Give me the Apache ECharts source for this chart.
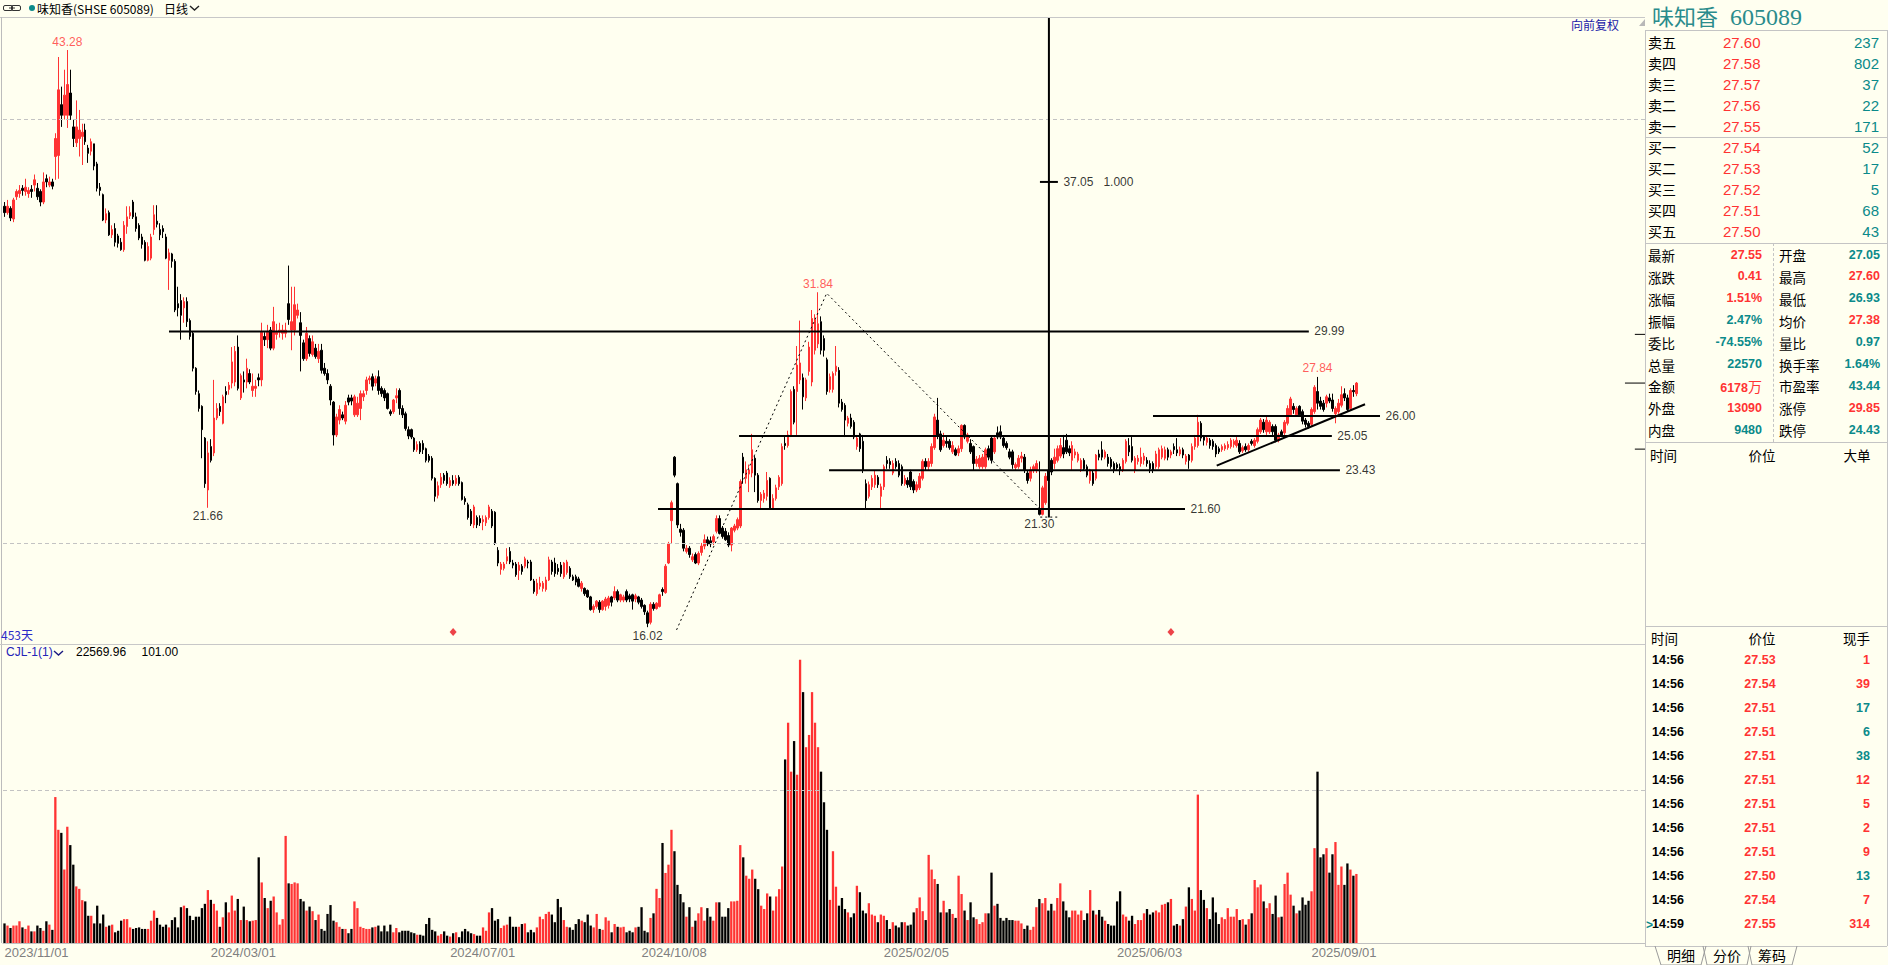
<!DOCTYPE html>
<html>
<head>
<meta charset="utf-8">
<title>味知香(SHSE 605089) 日线</title>
<script src="https://cdn.jsdelivr.net/npm/echarts@6.0.0/dist/echarts.min.js"></script>
<style>
  html, body { margin:0; padding:0; width:1888px; height:965px; overflow:hidden; background:#FFFFF0; }
  #chart { position:absolute; left:0; top:0; width:1888px; height:965px; }
  #overlay { position:absolute; left:0; top:0; width:1888px; height:965px; pointer-events:none; }
  .t { position:absolute; white-space:pre; font-family:'Noto Sans CJK SC','Liberation Sans',sans-serif; }
  .ln { position:absolute; background:#c4c4c4; }
</style>
</head>
<body>
<div id="chart"></div>
<div id="overlay"></div>
<script>
// ---------------- DATA ----------------
// daily candles: [open, close, low, high]
const ohlc = [
/*0*/  [35.9,35.6,35.4,36.1],[35.6,35.9,35.5,36.2],[35.8,35.35,35.2,35.9],[35.3,36.2,35.15,36.3],[36.35,36.6,36.2,36.7],[36.5,36.65,36.3,36.9],[36.75,36.65,36.4,36.9],[36.6,36.8,36.4,37.2],[36.5,36.65,36.3,36.8],[36.7,36.6,36.3,36.9],
/*10*/ [36.9,37.15,36.6,37.4],[36.75,36.35,36.2,37.0],[36.6,36.1,35.9,36.7],[36.1,37.05,36.0,37.5],[37.2,37.05,36.8,37.4],[36.9,37.05,36.8,37.3],[37.05,36.85,36.7,37.2],[38.25,39.1,37.15,39.35],[38.3,41.4,37.2,42.95],[40.7,40.2,39.65,41.55],
/*20*/ [40.2,41.15,40.0,42.35],[40.2,41.65,39.6,43.28],[41.25,40.2,39.98,42.35],[39.65,39.1,38.7,40.0],[38.9,39.65,38.7,40.9],[39.1,39.5,38.25,40.45],[39.2,39.4,37.85,39.8],[39.5,38.95,38.8,39.8],[38.65,38.4,37.95,38.8],[38.5,38.95,38.3,39.1],
/*30*/ [38.85,37.8,37.6,38.85],[37.9,36.75,36.6,38.0],[36.8,36.65,36.4,37.0],[36.45,35.25,35.2,36.5],[35.25,35.55,35.1,35.8],[35.6,34.55,34.5,35.7],[34.55,34.8,34.4,35.0],[34.85,34.2,34.0,35.1],[34.5,34.15,33.95,34.6],[34.2,33.85,33.8,34.4],
/*40*/ [33.85,35.0,33.75,35.2],[34.95,35.4,34.6,35.9],[35.45,35.6,35.3,35.9],[36.1,35.4,35.3,36.2],[35.4,34.85,34.7,35.6],[35.0,34.4,34.3,35.1],[34.45,34.1,33.9,34.6],[34.2,33.35,33.3,34.3],[33.35,34.0,33.3,34.2],[33.45,34.45,33.35,34.6],
/*50*/ [34.8,35.5,34.55,35.95],[35.2,35.05,34.9,35.95],[34.8,34.55,34.3,35.1],[34.85,34.7,34.4,35.0],[34.45,33.45,33.4,34.6],[33.35,33.7,31.95,33.9],[33.65,33.3,33.0,33.7],[33.3,31.0,30.9,33.4],[31.3,31.1,30.7,32.1],[31.45,30.75,29.6,31.75],
/*60*/ [31.1,31.4,30.4,31.6],[31.4,30.45,30.2,31.6],[30.5,29.75,29.6,30.6],[29.9,28.25,28.1,30.0],[28.25,27.15,27.0,28.3],[27.05,26.35,26.2,27.2],[26.45,25.35,24.0,26.5],[24.95,22.8,22.6,25.0],[22.5,24.25,21.66,24.8],[24.55,23.9,23.8,24.9],
/*70*/ [24.25,25.9,24.1,27.7],[25.9,26.35,25.8,26.6],[26.45,26.2,26.0,26.6],[25.65,26.9,25.6,27.0],[27.15,27.0,26.6,27.4],[27.25,27.45,27.0,27.6],[27.55,28.55,27.3,29.25],[27.6,29.05,27.4,29.3],[29.25,27.3,27.2,29.8],[26.85,27.9,26.75,28.0],
/*80*/ [27.7,27.6,27.1,28.1],[27.6,28.25,27.3,28.7],[28.0,27.6,27.5,28.2],[27.2,27.4,26.9,28.0],[27.3,27.4,26.9,27.7],[27.8,27.7,27.4,28.0],[27.7,29.95,27.4,30.4],[29.75,29.6,29.3,29.95],[29.6,29.95,29.2,30.3],[30.05,29.2,29.1,30.2],
/*90*/ [29.2,30.45,29.1,31.15],[29.85,29.95,29.6,30.35],[29.95,30.05,29.7,30.4],[29.9,30.05,29.6,30.3],[29.9,30.05,29.7,30.4],[31.3,30.55,30.3,33.1],[30.05,30.45,29.1,32.1],[30.05,31.25,29.8,32.1],[30.75,31.0,30.6,31.3],[30.4,29.8,28.1,30.9],
/*100*/[29.45,28.7,28.6,29.6],[28.7,29.9,28.6,30.2],[29.65,28.95,28.8,29.8],[28.9,29.5,28.8,29.8],[29.2,28.8,28.7,29.4],[28.7,29.05,28.5,29.4],[29.1,28.15,28.0,29.4],[28.25,28.0,27.9,28.5],[28.0,27.7,27.5,28.2],[27.4,26.75,26.5,27.5],
/*110*/[26.65,25.1,24.6,26.7],[25.1,25.95,25.0,26.1],[25.8,26.3,25.6,26.5],[26.05,25.9,25.8,26.2],[25.75,26.5,25.6,26.7],[26.85,26.65,26.5,27.0],[26.85,26.7,26.5,27.0],[26.05,26.9,25.95,27.0],[26.05,26.6,25.95,26.9],[26.35,27.05,25.8,27.2],
/*120*/[26.9,27.05,26.7,27.2],[27.2,27.7,27.0,27.85],[27.7,27.78,27.5,27.9],[27.85,27.4,27.2,28.0],[27.55,27.75,27.4,27.9],[27.85,27.2,27.0,28.15],[27.3,27.05,26.9,27.4],[27.2,26.85,26.7,27.3],[27.05,26.35,26.3,27.1],[26.2,26.1,26.0,26.3],
/*130*/[26.2,26.75,26.1,26.8],[26.85,26.95,26.6,27.3],[27.2,26.35,26.05,27.3],[26.35,26.05,25.9,26.5],[26.1,25.4,25.3,26.2],[25.35,25.05,24.9,25.5],[25.35,25.0,24.9,25.4],[24.95,24.4,24.3,25.0],[24.4,24.65,24.3,24.8],[24.7,24.3,24.2,24.8],
/*140*/[24.7,24.4,24.2,24.85],[24.45,23.9,23.8,24.5],[24.1,23.9,23.8,24.2],[24.0,23.05,22.95,24.1],[23.05,22.2,21.95,23.1],[22.25,22.7,22.1,22.9],[22.75,23.1,22.6,23.3],[23.2,22.95,22.8,23.3],[23.3,22.8,22.7,23.4],[22.7,22.95,22.6,23.1],
/*150*/[22.95,22.8,22.7,23.2],[22.8,23.05,22.7,23.2],[23.1,22.8,22.7,23.2],[22.85,22.05,22.0,22.9],[22.1,21.95,21.8,22.2],[21.8,21.2,21.1,21.9],[21.5,20.9,20.8,21.6],[20.85,21.7,20.7,21.8],[21.2,20.85,20.7,21.3],[21.15,20.95,20.8,21.3],
/*160*/[21.0,21.1,20.6,21.3],[20.95,21.2,20.8,21.3],[21.2,21.7,21.1,21.8],[21.5,20.8,20.7,21.6],[21.45,20.0,19.9,21.5],[19.65,19.05,18.9,19.8],[18.75,19.0,18.5,19.1],[18.8,19.0,18.7,19.1],[19.15,19.35,19.0,19.75],[19.6,19.1,19.0,19.8],
/*170*/[19.05,18.95,18.8,19.2],[19.0,18.5,18.4,19.1],[18.7,18.95,18.25,19.1],[18.9,18.65,18.5,19.0],[18.9,19.25,18.8,19.35],[19.1,19.05,18.8,19.2],[19.1,18.25,18.2,19.2],[18.2,17.7,17.6,18.3],[17.6,18.1,17.5,18.3],[17.95,18.1,17.8,18.4],
/*180*/[17.85,18.1,17.7,18.2],[17.8,18.25,17.7,18.4],[18.25,19.2,18.2,19.35],[19.1,18.65,18.5,19.2],[19.05,18.55,18.4,19.3],[18.8,18.65,18.5,19.0],[18.95,18.55,18.4,19.1],[18.4,19.05,18.3,19.1],[18.6,19.1,18.5,19.2],[18.8,18.4,18.3,18.9],
/*190*/[18.4,18.25,18.2,18.5],[18.4,18.15,18.0,18.5],[18.3,17.95,17.9,18.4],[17.85,18.1,17.7,18.2],[17.85,17.6,17.5,17.9],[17.75,17.45,17.4,17.8],[17.45,16.85,16.8,17.5],[16.85,17.0,16.7,17.1],[17.0,17.25,16.9,17.3],[17.2,16.85,16.7,17.3],
/*200*/[16.85,17.25,16.8,17.3],[17.0,17.35,16.8,17.45],[17.05,17.4,16.9,17.5],[17.45,17.2,17.0,17.5],[17.4,17.7,17.3,17.95],[17.7,17.3,17.2,17.8],[17.3,17.55,17.2,17.6],[17.3,17.45,17.2,17.55],[17.7,17.3,17.2,17.8],[17.5,17.35,17.2,17.6],
/*210*/[17.55,17.25,16.85,17.6],[17.35,17.5,17.2,17.6],[17.45,17.2,17.1,17.5],[17.3,17.0,16.9,17.4],[17.05,16.75,16.6,17.1],[16.7,16.2,16.02,16.8],[16.25,17.1,16.15,17.2],[17.1,16.9,16.8,17.2],[16.9,17.15,16.85,17.2],[17.0,17.55,16.95,17.6],
/*220*/[17.8,17.7,17.5,17.9],[17.65,18.9,17.6,19.0],[19.05,19.95,19.0,20.05],[21.05,21.9,19.98,22.0],[24.05,23.2,23.1,24.1],[22.8,20.85,20.7,22.85],[20.65,20.5,20.3,20.9],[20.6,19.75,19.6,20.7],[19.6,19.75,19.5,19.9],[19.75,19.45,19.3,19.85],
/*230*/[19.2,19.35,19.1,19.5],[19.45,19.05,19.0,19.55],[19.05,19.5,18.95,19.6],[19.55,19.85,19.4,20.0],[19.85,20.15,19.7,20.4],[20.15,19.95,19.85,20.3],[20.1,19.95,19.8,20.3],[20.05,20.3,19.9,20.4],[20.55,21.15,20.45,21.3],[21.15,20.45,20.4,21.3],
/*240*/[20.7,20.3,20.2,20.8],[20.55,20.15,20.1,20.7],[20.35,19.9,19.8,20.5],[19.9,20.7,19.6,20.75],[20.6,20.8,20.5,20.9],[20.7,21.1,20.6,21.2],[20.8,22.9,20.7,23.0],[24.05,23.3,22.8,24.25],[23.05,23.45,22.8,23.85],[23.25,23.45,22.4,23.7],
/*250*/[23.3,24.4,23.1,25.15],[24.0,23.2,22.4,24.1],[23.2,22.0,21.9,23.3],[22.0,22.3,21.6,22.4],[22.1,22.35,21.9,22.5],[22.2,22.95,22.0,23.35],[23.05,21.65,21.6,23.1],[21.65,22.1,21.6,22.3],[22.1,22.6,22.0,22.75],[22.65,23.1,22.5,23.2],
/*260*/[22.8,24.55,22.7,24.7],[24.7,24.6,24.4,25.0],[24.6,25.1,24.5,25.3],[25.1,27.15,25.0,27.25],[27.25,25.7,25.6,27.4],[27.15,28.4,25.1,29.3],[27.7,28.5,27.5,30.5],[27.8,26.9,26.3,28.0],[26.85,27.7,26.7,27.8],[28.1,29.25,27.9,29.5],
/*270*/[27.6,30.6,27.4,31.0],[29.1,30.55,28.9,30.8],[29.4,30.35,29.2,31.84],[30.45,29.1,28.9,30.7],[29.65,29.1,28.8,29.8],[28.65,27.15,27.0,28.75],[27.25,27.85,27.1,28.0],[27.25,28.0,27.1,28.1],[28.1,28.35,27.9,29.3],[28.15,26.6,26.4,28.3],
/*280*/[26.65,26.3,26.2,26.8],[26.5,25.8,25.0,26.6],[25.65,25.9,25.5,26.0],[25.9,25.5,25.4,26.1],[25.7,25.0,24.9,25.8],[24.55,24.95,24.4,25.1],[25.15,24.45,24.3,25.2],[24.8,23.45,23.3,25.1],[22.8,22.0,21.6,23.0],[22.2,22.75,22.1,22.9],
/*290*/[22.65,23.05,22.5,23.2],[22.75,23.2,22.6,23.4],[23.1,22.75,22.6,23.2],[22.2,22.65,21.65,22.8],[22.65,23.6,22.5,23.7],[23.9,23.75,23.5,24.1],[23.85,23.7,23.5,24.0],[23.3,23.75,23.2,23.9],[23.85,23.6,23.5,24.0],[23.75,23.2,23.1,23.9],
/*300*/[23.6,22.8,22.7,23.7],[22.8,23.05,22.7,23.2],[22.95,22.75,22.6,23.1],[23.35,22.65,22.5,23.45],[22.9,22.5,22.35,23.0],[22.5,22.75,22.4,22.9],[22.6,23.15,22.5,23.3],[23.05,23.85,22.95,23.95],[23.85,23.6,23.4,24.0],[23.6,23.85,23.4,24.0],
/*310*/[23.75,24.55,23.6,24.7],[24.5,25.95,24.4,26.1],[25.8,25.1,24.9,26.85],[25.15,24.4,24.3,25.3],[24.6,24.85,24.5,25.2],[24.8,24.7,24.5,25.0],[24.8,24.5,24.4,24.9],[24.3,24.6,24.2,24.8],[24.4,24.15,24.1,24.5],[24.25,24.45,24.1,24.6],
/*320*/[24.45,25.55,24.3,25.6],[25.55,25.0,24.9,25.6],[24.8,25.1,24.7,25.2],[24.7,24.3,24.2,24.9],[24.55,23.75,23.45,24.6],[23.75,23.95,23.6,24.1],[23.6,24.0,23.5,24.15],[23.6,24.05,23.5,24.2],[23.6,24.4,23.5,24.5],[24.45,24.05,23.9,24.6],
/*330*/[24.95,23.9,23.75,25.0],[24.3,24.95,24.2,25.1],[25.2,25.0,24.9,25.5],[25.25,25.0,24.9,25.55],[24.95,24.6,24.5,25.05],[24.7,24.5,24.4,24.8],[24.3,24.05,23.95,24.45],[24.3,23.7,23.5,24.4],[23.55,23.7,23.4,23.8],[23.6,24.0,23.5,24.15],
/*340*/[24.0,24.1,23.8,24.3],[24.05,23.45,23.3,24.2],[23.3,22.95,22.8,23.4],[23.05,23.45,22.9,23.6],[23.45,23.6,23.3,23.7],[23.45,23.75,23.3,23.9],[21.6,21.35,21.3,23.85],[21.35,22.6,21.3,22.7],[21.9,23.15,21.8,23.3],[23.4,22.95,22.8,23.5],
/*350*/[23.9,23.35,23.2,24.0],[23.75,24.05,23.5,24.45],[23.9,24.45,23.8,24.6],[24.1,24.6,24.0,24.95],[24.5,24.2,24.0,25.1],[24.85,24.3,24.2,25.15],[24.45,24.25,24.1,24.6],[23.9,24.6,23.45,24.8],[24.15,24.3,24.0,24.45],[23.9,24.2,23.8,24.3],
/*360*/[23.5,23.9,23.35,24.0],[23.9,23.5,23.4,24.0],[23.6,23.2,23.1,23.7],[22.95,23.45,22.8,23.5],[23.3,22.8,22.7,23.4],[23.05,24.15,22.95,24.2],[24.2,24.05,23.9,24.4],[24.4,24.05,23.9,24.8],[24.05,24.3,23.95,24.4],[24.05,23.75,23.6,24.2],
/*370*/[23.95,23.6,23.5,24.05],[23.75,23.45,23.3,23.85],[23.7,23.55,23.45,23.8],[23.6,23.45,23.2,23.75],[23.45,23.9,23.35,24.0],[23.85,24.8,23.75,24.9],[24.6,24.3,24.1,24.95],[24.55,23.9,23.8,25.0],[23.45,24.0,23.3,24.1],[23.85,24.0,23.7,24.15],
/*380*/[23.75,24.05,23.6,24.5],[23.9,24.1,23.7,24.25],[23.9,23.75,23.6,24.05],[23.75,23.5,23.3,23.9],[23.75,23.45,23.3,23.85],[23.6,24.2,23.5,24.35],[23.6,24.4,23.5,24.5],[24.05,24.45,23.95,24.6],[24.0,24.4,23.9,24.55],[24.4,24.05,23.9,24.5],
/*390*/[24.15,24.3,24.0,24.4],[24.55,24.4,24.2,24.7],[24.4,24.25,24.1,24.95],[24.2,24.4,24.1,24.55],[24.4,24.15,24.0,24.5],[23.85,24.1,23.7,24.2],[24.15,23.9,23.5,24.2],[23.9,24.55,23.8,24.7],[24.55,24.95,24.4,25.1],[24.6,25.7,24.5,26.05],
/*400*/[25.65,24.95,24.8,25.75],[25.0,24.85,24.6,25.1],[24.75,24.95,24.6,25.0],[24.85,24.6,24.45,24.95],[24.8,24.55,24.4,24.9],[24.6,24.2,24.05,24.7],[24.45,24.3,24.2,24.55],[24.4,24.55,24.3,24.65],[24.45,24.6,24.35,24.7],[24.5,24.65,24.4,24.8],
/*410*/[24.55,24.85,24.45,24.95],[24.65,24.8,24.5,24.9],[24.6,24.85,24.5,25.0],[24.7,24.3,24.2,24.85],[24.35,24.5,24.25,24.6],[24.55,24.4,24.3,24.7],[24.4,24.6,24.3,24.7],[24.8,24.7,24.6,24.9],[24.6,24.85,24.5,24.95],[24.8,25.35,24.7,25.45],
/*420*/[25.25,25.8,25.15,25.9],[25.7,25.35,25.2,25.85],[25.25,25.8,25.1,25.95],[25.25,25.7,25.15,25.8],[25.5,25.25,25.1,25.6],[25.5,24.85,24.75,25.6],[24.85,25.1,24.75,25.2],[25.25,25.1,25.0,25.35],[25.2,25.7,25.1,25.8],[25.65,26.35,25.55,26.5],
/*430*/[26.05,26.8,25.95,26.9],[26.45,26.3,26.1,26.6],[26.05,26.35,25.95,26.45],[26.45,26.05,25.95,26.5],[26.2,25.75,25.6,26.3],[25.8,25.6,25.45,25.9],[25.65,25.5,25.4,25.75],[25.6,26.3,25.5,26.4],[26.2,27.35,26.1,27.45],[27.15,26.6,26.3,27.84],
/*440*/[26.7,26.45,26.3,26.9],[26.6,26.3,26.2,26.75],[26.6,26.9,26.4,27.0],[26.85,26.7,26.6,27.05],[26.75,26.35,26.2,27.05],[26.1,26.35,25.65,26.45],[26.2,26.6,26.1,26.8],[26.5,27.0,26.4,27.4],[27.05,26.85,26.7,27.3],[26.85,26.3,26.2,27.0],
/*450*/[26.35,27.2,26.25,27.3],[27.2,27.14,26.9,27.45],[27.05,27.55,26.93,27.6]
];

// daily volume (手)
const volumes = [
/*0*/   6400,5700,4900,5700,5700,7100,5100,4600,5700,3800,
/*10*/  3800,5700,4900,4000,7100,6000,4300,47700,37000,36000,
/*20*/  24000,38000,32000,25600,18500,17700,14000,13600,8900,8900,
/*30*/  6400,12200,6400,9300,5300,5700,6000,3500,4000,7300,
/*40*/  7800,7800,5100,4600,4900,5100,4600,4600,4600,7300,
/*50*/  10600,8200,6000,5300,6000,5100,7500,8400,5100,11700,
/*60*/  12200,11400,8900,7500,8600,8600,11400,12800,17300,14100,
/*70*/  12800,10600,5300,8400,13300,10000,15500,10600,14400,7500,
/*80*/  11900,7500,7100,7300,7500,28000,19800,14700,11400,13800,
/*90*/  15200,10000,6000,7800,35000,19500,19300,19800,19500,14400,
/*100*/ 13600,10600,11900,10400,7500,9300,4600,4000,9500,12400,
/*110*/ 7300,6800,5300,4600,4600,3200,4600,13600,11400,5300,
/*120*/ 4900,4600,4600,5100,5300,5700,3800,5700,3800,6000,
/*130*/ 3500,4900,3500,4000,4000,4000,3500,3200,2700,2700,
/*140*/ 2400,6200,8200,4300,3800,2400,2900,3800,2400,2100,
/*150*/ 3200,3500,1900,3800,4600,3800,3200,2900,2400,2400,
/*160*/ 5100,4000,10000,11400,7300,7800,4900,5700,6000,8600,
/*170*/ 5300,5300,5300,6200,6400,3500,4300,3500,5100,8600,
/*180*/ 7800,9500,10200,9300,6800,14400,11700,7500,5300,5100,
/*190*/ 4300,6200,7800,7300,6800,9300,5700,5100,9500,4600,
/*200*/ 4300,8400,7300,3500,6200,5300,5100,5300,3500,4000,
/*210*/ 3500,5100,5300,11700,4000,3500,8200,9700,17700,14700,
/*220*/ 32700,22900,25600,37000,30000,19000,16000,13300,8600,11700,
/*230*/ 5300,7300,9700,11700,7300,11400,8600,7300,13300,13300,
/*240*/ 8600,8600,11400,13600,13600,13800,32000,28000,22000,21000,
/*250*/ 24000,21000,17600,12200,11100,16200,15200,10600,15200,17600,
/*260*/ 25000,60000,72000,56000,66000,55000,92600,82000,64000,68000,
/*270*/ 82000,72000,64000,56000,46000,37000,14100,30000,18400,12200,
/*280*/ 14700,11100,10000,8400,9700,18700,16600,10600,9700,13000,
/*290*/ 9300,8900,6800,9300,8900,7500,4600,6800,5700,5100,
/*300*/ 6800,6800,5700,6000,10000,11400,14900,10400,7500,28800,
/*310*/ 24000,20900,19300,10000,13800,10000,11100,9500,8200,22000,
/*320*/ 16000,10600,7500,13300,8400,7800,6200,6800,9700,9700,
/*330*/ 23000,12200,12800,8200,7300,8200,7500,7500,7300,7300,
/*340*/ 6400,4600,5700,4300,5300,11700,14400,13000,14700,10600,
/*350*/ 12800,10600,14700,19500,13600,10600,8400,10600,10600,9300,
/*360*/ 10600,7500,9700,17300,10600,9300,10800,8600,7300,6200,
/*370*/ 5700,5700,13600,16900,9300,8600,7300,8900,6200,7500,
/*380*/ 7500,9700,11100,9300,10000,10600,10000,12500,12800,13300,
/*390*/ 14400,5700,6200,5700,7800,11900,18200,14400,10600,48500,
/*400*/ 17300,14100,11400,7800,14900,10000,6200,8400,7800,11400,
/*410*/ 8600,8600,11100,7500,7800,6000,7800,9700,20600,18200,
/*420*/ 19100,13600,11400,13000,9500,15500,8400,8600,19300,23000,
/*430*/ 15800,12200,9700,10600,14900,12500,13800,16900,31000,56000,
/*440*/ 28000,29000,31000,23000,29000,33000,19000,25000,19000,26000,
/*450*/ 24000,22000,22569.96
];
const volIndicatorValue2 = '101.00';

// x-axis date labels and the candle index they sit on
const tickIdx  = [0, 69, 149, 213, 294, 372, 437];
const tickText = ['2023/11/01','2024/03/01','2024/07/01','2024/10/08','2025/02/05','2025/06/03','2025/09/01'];

// labelled extremes: [candle index, 'high'|'low']
const extremes = [[21,'high'],[68,'low'],[215,'low'],[272,'high'],[346,'low'],[439,'high']];

// drawn horizontal levels: [price, from index, to index]
const levelLines = [[29.99,55.0,436.1],[26.00,384.0,459.9],[25.05,245.6,443.8],[23.43,275.7,446.5],[21.60,218.5,394.7]];
// dotted swing line (index, price)
const swingLine = [[224.7,15.89],[274.9,31.79],[346.3,21.6]];
const swingFoot = [[346.3,21.22],[352.8,21.22]];
// rising trend line
const trendLine = [[405.3,23.65],[454.9,26.55]];
// fibonacci-style vertical marker
const fibX = 349.2, fibBottom = 21.2, fibLevel = 37.05, fibRatio = '1.000', fibTick = [346.2, 352.2];
// event markers (candle index)
const eventIdx = [150, 390];
const eventPrice = 15.79;
// price gridlines, volume gridline
const priceGrid = [20, 40];
const volGrid = [50000];

// quote panel
const stockName = '味知香', stockCode = '605089', exch = 'SHSE';
const askRows = [['卖五','27.60','237'],['卖四','27.58','802'],['卖三','27.57','37'],['卖二','27.56','22'],['卖一','27.55','171']];
const bidRows = [['买一','27.54','52'],['买二','27.53','17'],['买三','27.52','5'],['买四','27.51','68'],['买五','27.50','43']];
const statRows = [
  ['最新','27.55','r','开盘','27.05','t'],
  ['涨跌','0.41','r','最高','27.60','r'],
  ['涨幅','1.51%','r','最低','26.93','t'],
  ['振幅','2.47%','t','均价','27.38','r'],
  ['委比','-74.55%','t','量比','0.97','t'],
  ['总量','22570','t','换手率','1.64%','t'],
  ['金额','6178万','r','市盈率','43.44','t'],
  ['外盘','13090','r','涨停','29.85','r'],
  ['内盘','9480','t','跌停','24.43','t']
];
const lastPrice = 27.55, limitUp = 29.85, limitDown = 24.43;
const tradeRows = [
  ['14:56','27.53','1','r'],['14:56','27.54','39','r'],['14:56','27.51','17','t'],['14:56','27.51','6','t'],
  ['14:56','27.51','38','t'],['14:56','27.51','12','r'],['14:56','27.51','5','r'],['14:56','27.51','2','r'],
  ['14:56','27.51','9','r'],['14:56','27.50','13','t'],['14:56','27.54','7','r'],['14:59','27.55','314','r']
];

// ---------------- CHART ----------------
const RED = '#ff3333', TEAL = '#0b8a8a', BG = '#FFFFF0', NUMF = 'Liberation Sans';
const N_SLOTS = 549;
const cats = Array.from({length: N_SLOTS}, (_, i) => String(i));

const chart = echarts.init(document.getElementById('chart'), null, {renderer: 'svg'});

function seg(points, style, z) {
  return {type:'line', xAxisIndex:2, yAxisIndex:0, data:points, symbol:'none', showSymbol:false,
          silent:true, z: z || 5, lineStyle: style, clip:false};
}
function labelPts(data, z) {
  return {type:'scatter', xAxisIndex:2, yAxisIndex:0, data:data, symbolSize:1, silent:true, z: z || 6,
          itemStyle:{color:'rgba(0,0,0,0)'},
          label:{show:true, fontFamily:NUMF, fontSize:12, color:'#000', formatter: p => p.data.text}};
}

const series = [];
series.push({
  type:'candlestick', xAxisIndex:0, yAxisIndex:0, data: ohlc, barWidth: 2, silent:true,
  itemStyle:{color:RED, color0:'#000', borderColor:RED, borderColor0:'#000', borderWidth:1},
  markLine:{silent:true, symbol:['none','none'], label:{show:false}, animation:false,
            lineStyle:{color:'#c3c3c3', type:[4,3], width:1},
            data: priceGrid.map(v => ({yAxis:v}))}
});
series.push({
  type:'bar', xAxisIndex:1, yAxisIndex:1, barWidth: 2.3, silent:true,
  data: volumes.map((v, i) => ({value: v, itemStyle:{color: ohlc[i][1] >= ohlc[i][0] ? RED : '#000'}})),
  markLine:{silent:true, symbol:['none','none'], label:{show:false}, animation:false,
            lineStyle:{color:'#c3c3c3', type:[4,3], width:1},
            data: volGrid.map(v => ({yAxis:v}))}
});
// horizontal levels
levelLines.forEach(([p, a, b]) => series.push(seg([[a, p], [b, p]], {color:'#000', width:2})));
// swing and trend lines
series.push(seg(swingLine, {color:'#000', width:1, type:[2,3]}));
series.push(seg(swingFoot, {color:'#000', width:1, type:[2,3]}));
series.push(seg(trendLine, {color:'#000', width:2}));
// vertical marker and its tick
series.push(seg([[fibX, fibBottom], [fibX, 44.84]], {color:'#000', width:2}));
series.push(seg([[fibTick[0], fibLevel], [fibTick[1], fibLevel]], {color:'#000', width:2}));
// right-edge markers: limit up / last / limit down
series.push(seg([[545.1, limitUp], [548.5, limitUp]], {color:'#000', width:1}));
series.push(seg([[541.8, lastPrice], [548.5, lastPrice]], {color:'#000', width:1}));
series.push(seg([[545.1, limitDown], [548.5, limitDown]], {color:'#000', width:1}));
// texts
const txtData = [];
extremes.forEach(([i, k]) => {
  const v = k === 'high' ? ohlc[i][3] : ohlc[i][2];
  txtData.push({value:[i, v], text: v.toFixed(2),
    label:{position: k === 'high' ? 'top' : 'bottom', distance: 2, color: k === 'high' ? RED : '#000'}});
});
levelLines.forEach(([p, a, b]) => txtData.push({value:[b, p], text: p.toFixed(2), label:{position:'right', distance:5}}));
txtData.push({value:[fibTick[1], fibLevel], text: fibLevel.toFixed(2) + '\u00a0\u00a0\u00a0' + fibRatio, label:{position:'right', distance:5}});
series.push(labelPts(txtData));
// event diamonds
series.push({type:'scatter', xAxisIndex:2, yAxisIndex:0, silent:true, z:6, symbol:'diamond', symbolSize:[7,8],
  itemStyle:{color:'#e8141e'}, data: eventIdx.map(i => [i, eventPrice])});

chart.setOption({
  animation:false,
  backgroundColor: BG,
  grid:[{left:3, top:17, width:1642, height:625, outerBoundsMode:'none'},
        {left:3, top:645, width:1642, height:298, outerBoundsMode:'none'}],
  xAxis:[
    {type:'category', gridIndex:0, data:cats, boundaryGap:true, show:false},
    {type:'category', gridIndex:1, data:cats, boundaryGap:true,
     axisLine:{show:true, lineStyle:{color:'#c0c0c0', width:1}}, axisTick:{show:false}, splitLine:{show:false},
     axisLabel:{interval:(i) => tickIdx.indexOf(i) >= 0,
                formatter:(v) => { const k = tickIdx.indexOf(Number(v)); return k >= 0 ? tickText[k] : ''; },
                align:'left', color:'#808080', fontSize:13, fontFamily:NUMF, margin:3}},
    {type:'value', gridIndex:0, min:-0.5, max:N_SLOTS - 0.5, show:false}
  ],
  yAxis:[
    {type:'value', gridIndex:0, min:15.32, max:44.84, show:false},
    {type:'value', gridIndex:1, min:0, max:97400, show:false}
  ],
  series: series
});

// ---------------- OVERLAY (header + quote panel) ----------------
const ov = document.getElementById('overlay');
function txt(s, x, y, o) {
  o = o || {};
  const d = document.createElement('div');
  d.className = 't';
  d.textContent = s;
  const size = o.size || 13;
  const h = Math.round(size * 1.5);
  d.style.fontSize = size + 'px';
  d.style.lineHeight = h + 'px';
  d.style.height = h + 'px';
  d.style.top = (y - h / 2) + 'px';
  d.style.color = o.color || '#000';
  if (o.bold) d.style.fontWeight = 'bold';
  if (o.font) d.style.fontFamily = o.font;
  const align = o.align || 'left';
  if (align === 'left') d.style.left = x + 'px';
  else if (align === 'right') { d.style.left = (x - 300) + 'px'; d.style.width = '300px'; d.style.textAlign = 'right'; }
  else { d.style.left = (x - 150) + 'px'; d.style.width = '300px'; d.style.textAlign = 'center'; }
  ov.appendChild(d);
  return d;
}
function hline(x1, x2, y, c) {
  const d = document.createElement('div'); d.className = 'ln';
  d.style.left = x1 + 'px'; d.style.top = y + 'px'; d.style.width = (x2 - x1) + 'px'; d.style.height = '1px';
  if (c) d.style.background = c; ov.appendChild(d);
}
function vline(x, y1, y2, c, dashed) {
  const d = document.createElement('div'); d.className = 'ln';
  d.style.left = x + 'px'; d.style.top = y1 + 'px'; d.style.width = '1px'; d.style.height = (y2 - y1) + 'px';
  if (dashed) { d.style.background = 'transparent'; d.style.borderLeft = '1px dashed #c4c4c4'; d.style.width = '0px'; }
  else if (c) d.style.background = c;
  ov.appendChild(d);
}
const CJK = "'Noto Sans CJK SC',sans-serif";

// chart frame lines
hline(0, 1645, 17, '#c8c8c8');
vline(1, 17, 943, '#bcbcbc');
hline(0, 1645, 644, '#c8c8c8');

// header
const svgNS = 'http://www.w3.org/2000/svg';
function svgEl(w, h, x, y, inner) {
  const s = document.createElementNS(svgNS, 'svg');
  s.setAttribute('width', w); s.setAttribute('height', h);
  s.style.position = 'absolute'; s.style.left = x + 'px'; s.style.top = y + 'px';
  s.innerHTML = inner; ov.appendChild(s); return s;
}
svgEl(20, 10, 3, 3, '<rect x="0.5" y="2.5" width="9" height="5" rx="1.5" fill="none" stroke="#333" stroke-width="1"/><rect x="8.5" y="2.5" width="9" height="5" rx="1.5" fill="none" stroke="#333" stroke-width="1"/><line x1="6" y1="5" x2="12" y2="5" stroke="#333"/>');
svgEl(8, 8, 28, 4, '<circle cx="4" cy="4" r="3" fill="#0b8a8a"/>');
txt(stockName + '(' + exch + ' ' + stockCode + ')', 37, 8.5, {size:12, font:CJK});
txt('日线', 164, 8.5, {size:12, font:CJK});
svgEl(12, 8, 189, 4, '<polyline points="1,2 5.5,6 10,2" fill="none" stroke="#222" stroke-width="1.4"/>');
txt('向前复权', 1595, 25, {size:12, font:CJK, color:'#1a1aa8', align:'center'});
txt(ohlc.length + '天', 1, 635, {size:12, font:CJK, color:'#2b2bc8'});

// volume header
txt('CJL-1(1)', 6, 652, {size:12, font:NUMF, color:'#2323b8'});
svgEl(12, 8, 53, 649, '<polyline points="1,2 5.5,6 10,2" fill="none" stroke="#1a1a80" stroke-width="1.4"/>');
txt(volumes[volumes.length - 1].toFixed(2), 76, 652, {size:12, font:NUMF});
txt(volIndicatorValue2, 141.5, 652, {size:12, font:NUMF});

// quote panel frame
const PL = 1645, PR = 1887;
svgEl(8, 10, 1639, 18, '<polygon points="6,1 6,8 0,8" fill="#b8b8b8"/>');
vline(PL, 30, 946); vline(PR, 30, 946);
hline(PL, PR, 30); hline(PL, PR, 137); hline(PL, PR, 243); hline(PL, PR, 442); hline(PL, PR, 626); hline(PL, PR, 946);
vline(1773, 243, 442, null, true);

// title
const title = txt('', 1652, 15, {size:22, color:'#2a8c8c'});
const s1 = document.createElement('span'); s1.textContent = stockName; s1.style.fontFamily = CJK; s1.style.fontSize = '22px';
const s2 = document.createElement('span'); s2.textContent = '\u00a0\u00a0' + stockCode; s2.style.fontFamily = "'Liberation Serif',serif"; s2.style.fontSize = '24px';
title.appendChild(s1); title.appendChild(s2);

// ask / bid
askRows.forEach((r, k) => {
  const y = 42.7 + k * 21;
  txt(r[0], 1648, y, {size:14, font:CJK});
  txt(r[1], 1723, y, {size:15, font:NUMF, color:RED});
  txt(r[2], 1879, y, {size:15, font:NUMF, color:TEAL, align:'right'});
});
bidRows.forEach((r, k) => {
  const y = 147.7 + k * 21;
  txt(r[0], 1648, y, {size:14, font:CJK});
  txt(r[1], 1723, y, {size:15, font:NUMF, color:RED});
  txt(r[2], 1879, y, {size:15, font:NUMF, color:TEAL, align:'right'});
});
// stats
function colr(c) { return c === 'r' ? RED : TEAL; }
statRows.forEach((r, k) => {
  const y = 255 + k * 21.9;
  txt(r[0], 1648, y, {size:13.5, font:CJK});
  const v = r[1];
  if (v.endsWith('万')) {
    const d = txt('', 1762, y, {size:12.5, font:NUMF, bold:true, color:colr(r[2]), align:'right'});
    const a = document.createElement('span'); a.textContent = v.slice(0, -1);
    const b = document.createElement('span'); b.textContent = '万'; b.style.fontFamily = CJK; b.style.fontSize = '14px'; b.style.fontWeight = 'normal';
    d.appendChild(a); d.appendChild(b);
  } else {
    txt(v, 1762, y, {size:12.5, font:NUMF, bold:true, color:colr(r[2]), align:'right'});
  }
  txt(r[3], 1779, y, {size:13.5, font:CJK});
  txt(r[4], 1880, y, {size:12.5, font:NUMF, bold:true, color:colr(r[5]), align:'right'});
});
// big-order header
txt('时间', 1650, 455, {size:13.5, font:CJK});
txt('价位', 1762, 455, {size:13.5, font:CJK, align:'center'});
txt('大单', 1857, 455, {size:13.5, font:CJK, align:'center'});
// trades
txt('时间', 1651, 638, {size:13.5, font:CJK});
txt('价位', 1762, 638, {size:13.5, font:CJK, align:'center'});
txt('现手', 1870, 638, {size:13.5, font:CJK, align:'right'});
tradeRows.forEach((r, k) => {
  const y = 660.7 + k * 24;
  if (k === tradeRows.length - 1) txt('>', 1646, y, {size:12, font:NUMF, bold:true, color:TEAL});
  txt(r[0], 1652, y, {size:12.5, font:NUMF, bold:true});
  txt(r[1], 1760, y, {size:12.5, font:NUMF, bold:true, color:RED, align:'center'});
  txt(r[2], 1870, y, {size:12.5, font:NUMF, bold:true, color:colr(r[3]), align:'right'});
});
// tabs
svgEl(243, 20, 1645, 946,
  '<polyline points="10,0 16,19 56,19 61,0" fill="none" stroke="#9a9a9a" stroke-width="1"/>' +
  '<polyline points="58,0 62,19 102,19 106,0" fill="none" stroke="#9a9a9a" stroke-width="1"/>' +
  '<polyline points="103,0 107,19 147,19 152,0" fill="none" stroke="#9a9a9a" stroke-width="1"/>');
txt('明细', 1681, 955, {size:14, font:CJK, align:'center'});
txt('分价', 1727, 955, {size:14, font:CJK, align:'center'});
txt('筹码', 1772, 955, {size:14, font:CJK, align:'center'});
</script>
</body>
</html>
